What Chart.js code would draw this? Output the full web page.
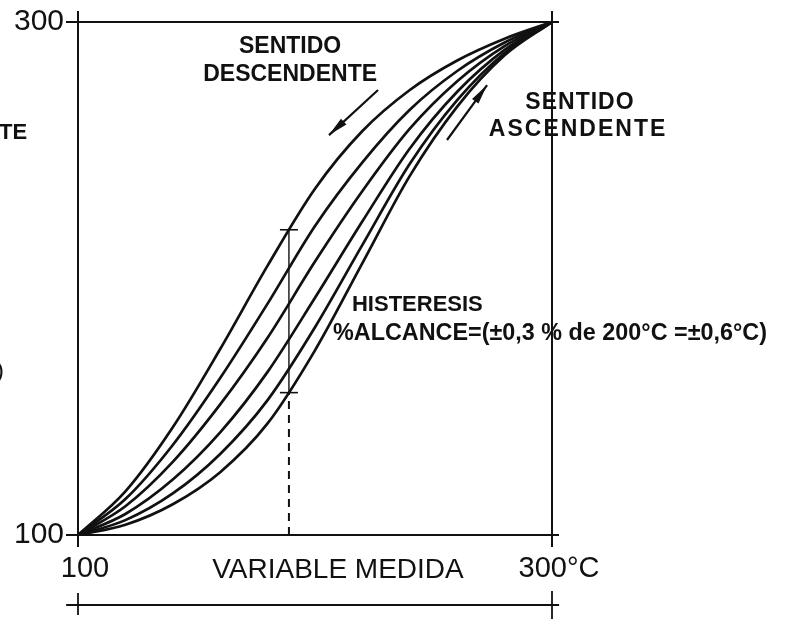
<!DOCTYPE html>
<html>
<head>
<meta charset="utf-8">
<script src="https://cdn.jsdelivr.net/npm/chart.js@4"></script>
<style>
  html, body { margin: 0; padding: 0; background: #fff; }
  #wrap { width: 807px; height: 620px; }
</style>
</head>
<body>
<div id="wrap"><canvas id="chart"></canvas></div>
<script>
// values (°C in, °C out)
const xValues = [100, 120, 140, 160, 180, 200, 220, 240, 260, 280, 300];
const curve1 = [100, 117.0, 142.0, 172.5, 205.0, 235.0, 257.5, 273.5, 285.0, 293.5, 300];
const curve2 = [100, 114.0, 135.1, 161.2, 190.2, 220.5, 245.3, 265.8, 280.9, 292.0, 300];
const curve3 = [100, 111.2, 128.5, 150.9, 176.9, 206.6, 234.1, 258.4, 276.9, 290.6, 300];
const curve4 = [100, 108.2, 121.6, 140.0, 163.6, 192.5, 222.3, 250.7, 272.8, 289.1, 300];
const curve5 = [100, 105.8, 116.2, 131.6, 152.6, 181.0, 213.1, 244.7, 269.5, 287.9, 300];
const curve6 = [100, 104.0, 112.0, 124.5, 143.5, 172.0, 206.0, 240.0, 267.0, 287.0, 300];
const xTicks = [100, 300];
const yTicks = [100, 300];

// hysteresis marker
const hystX = 189;
const hystLow = 155.5;
const hystHigh = 219;

const ink = '#111';
const FONT = '"Liberation Sans", Arial, sans-serif';

// text and arrows placed in data units
const notes = [
  { text: 'SENTIDO', x: 189.5, y: 290.3, size: 23, align: 'center' },
  { text: 'DESCENDENTE', x: 189.5, y: 279.3, size: 23, align: 'center' },
  { text: 'SENTIDO', x: 311.8, y: 268.4, size: 23, align: 'center', spacing: 1 },
  { text: 'ASCENDENTE', x: 311.0, y: 257.9, size: 23, align: 'center', spacing: 2 },
  { text: 'HISTERESIS', x: 215.6, y: 189.7, size: 22, align: 'left' },
  { text: '%ALCANCE=(±0,3 % de 200°C =±0,6°C)', x: 207.6, y: 178.8, size: 24, align: 'left', maxWidth: 434 },
];
const arrows = [
  { from: [226.6, 273.5], to: [205.9, 255.9] },
  { from: [255.7, 254.0], to: [272.6, 275.4] },
];

const toPoints = (ys) => ys.map((v, i) => ({ x: xValues[i], y: v }));

const curveStyle = {
  borderColor: ink,
  borderWidth: 2.7,
  pointRadius: 0,
  cubicInterpolationMode: 'monotone',
  fill: false,
};

const overlay = {
  id: 'overlay',
  afterDraw(chart) {
    const { ctx, scales: { x, y } } = chart;
    const px = (v) => x.getPixelForValue(v);
    const py = (v) => y.getPixelForValue(v);
    ctx.save();
    ctx.fillStyle = ink;
    ctx.strokeStyle = ink;
    ctx.textBaseline = 'middle';

    notes.forEach((n) => {
      ctx.font = `bold ${n.size}px ${FONT}`;
      ctx.textAlign = n.align;
      ctx.letterSpacing = (n.spacing || 0) + 'px';
      if (n.maxWidth) ctx.fillText(n.text, px(n.x), py(n.y), n.maxWidth);
      else ctx.fillText(n.text, px(n.x), py(n.y));
    });
    ctx.letterSpacing = '0px';

    // x axis title
    ctx.font = `28px ${FONT}`;
    ctx.textAlign = 'center';
    ctx.fillText('VARIABLE MEDIDA', px(209.7), py(86.4));

    // cut-off y title on the left edge
    ctx.font = `bold 22px ${FONT}`;
    ctx.textAlign = 'left';
    ctx.fillText('TE', -1, py(256.7));
    ctx.font = `24px ${FONT}`;
    ctx.fillText(')', -4, py(163.9));

    // arrows
    arrows.forEach((a) => {
      const x0 = px(a.from[0]), y0 = py(a.from[1]);
      const x1 = px(a.to[0]), y1 = py(a.to[1]);
      const ang = Math.atan2(y1 - y0, x1 - x0);
      ctx.lineWidth = 2.2;
      ctx.beginPath();
      ctx.moveTo(x0, y0);
      ctx.lineTo(x1, y1);
      ctx.stroke();
      const len = 20, half = 4;
      ctx.beginPath();
      ctx.moveTo(x1, y1);
      ctx.lineTo(x1 - len * Math.cos(ang) + half * Math.sin(ang), y1 - len * Math.sin(ang) - half * Math.cos(ang));
      ctx.lineTo(x1 - len * Math.cos(ang) - half * Math.sin(ang), y1 - len * Math.sin(ang) + half * Math.cos(ang));
      ctx.closePath();
      ctx.fill();
    });

    // range line under the axis
    const yr = py(72.7);
    ctx.lineWidth = 1.8;
    ctx.beginPath();
    ctx.moveTo(px(95), yr);
    ctx.lineTo(px(303), yr);
    ctx.moveTo(px(xTicks[0]), yr - 12);
    ctx.lineTo(px(xTicks[0]), yr + 10);
    ctx.moveTo(px(xTicks[1]), yr - 14);
    ctx.lineTo(px(xTicks[1]), yr + 14);
    ctx.stroke();
    ctx.restore();
  },
};

const fixedTicks = (scale) => { scale.ticks = (scale.axis === 'x' ? xTicks : yTicks).map((v) => ({ value: v })); };

new Chart(document.getElementById('chart'), {
  type: 'line',
  data: {
    datasets: [
      { ...curveStyle, data: toPoints(curve1) },
      { ...curveStyle, data: toPoints(curve2) },
      { ...curveStyle, data: toPoints(curve3) },
      { ...curveStyle, data: toPoints(curve4) },
      { ...curveStyle, data: toPoints(curve5) },
      { ...curveStyle, data: toPoints(curve6) },
      {
        data: [{ x: hystX, y: 100 }, { x: hystX, y: hystLow }],
        borderColor: ink, borderWidth: 2, borderDash: [8, 6], pointRadius: 0,
      },
      {
        data: [{ x: hystX, y: hystLow }, { x: hystX, y: hystHigh }],
        borderColor: ink, borderWidth: 1.4, pointStyle: 'line',
        pointRadius: 9, pointBorderWidth: 1.6, pointBorderColor: ink,
      },
    ],
  },
  options: {
    responsive: true,
    maintainAspectRatio: false,
    animation: false,
    layout: { padding: 0 },
    plugins: { legend: { display: false }, tooltip: { enabled: false } },
    scales: {
      x: {
        type: 'linear', min: 100, max: 300, position: 'bottom',
        afterBuildTicks: fixedTicks,
        afterFit: (s) => { s.height = 85; },
        grid: { color: ink, lineWidth: 2, tickLength: 12, drawOnChartArea: true },
        border: { display: false },
        ticks: {
          color: ink, padding: 5, labelOffset: 7, maxRotation: 0,
          font: { family: FONT, size: 29 },
          callback: (v) => (v === 300 ? '300°C' : String(v)),
        },
      },
      x2: {
        type: 'linear', min: 100, max: 300, position: 'top',
        afterBuildTicks: fixedTicks,
        afterFit: (s) => { s.height = 22; },
        grid: { color: ink, lineWidth: 2, tickLength: 11, drawOnChartArea: false },
        border: { display: false },
        ticks: { display: false },
      },
      y: {
        type: 'linear', min: 100, max: 300, position: 'left',
        afterBuildTicks: fixedTicks,
        afterFit: (s) => { s.width = 78; },
        grid: { color: ink, lineWidth: 2, tickLength: 12, drawOnChartArea: true },
        border: { display: false },
        ticks: { color: ink, padding: 2, font: { family: FONT, size: 30 } },
      },
      y2: {
        type: 'linear', min: 100, max: 300, position: 'right',
        afterBuildTicks: fixedTicks,
        afterFit: (s) => { s.width = 255; },
        grid: { color: ink, lineWidth: 2, tickLength: 7, drawOnChartArea: false },
        border: { display: false },
        ticks: { display: false },
      },
    },
  },
  plugins: [overlay],
});
</script>
</body>
</html>
